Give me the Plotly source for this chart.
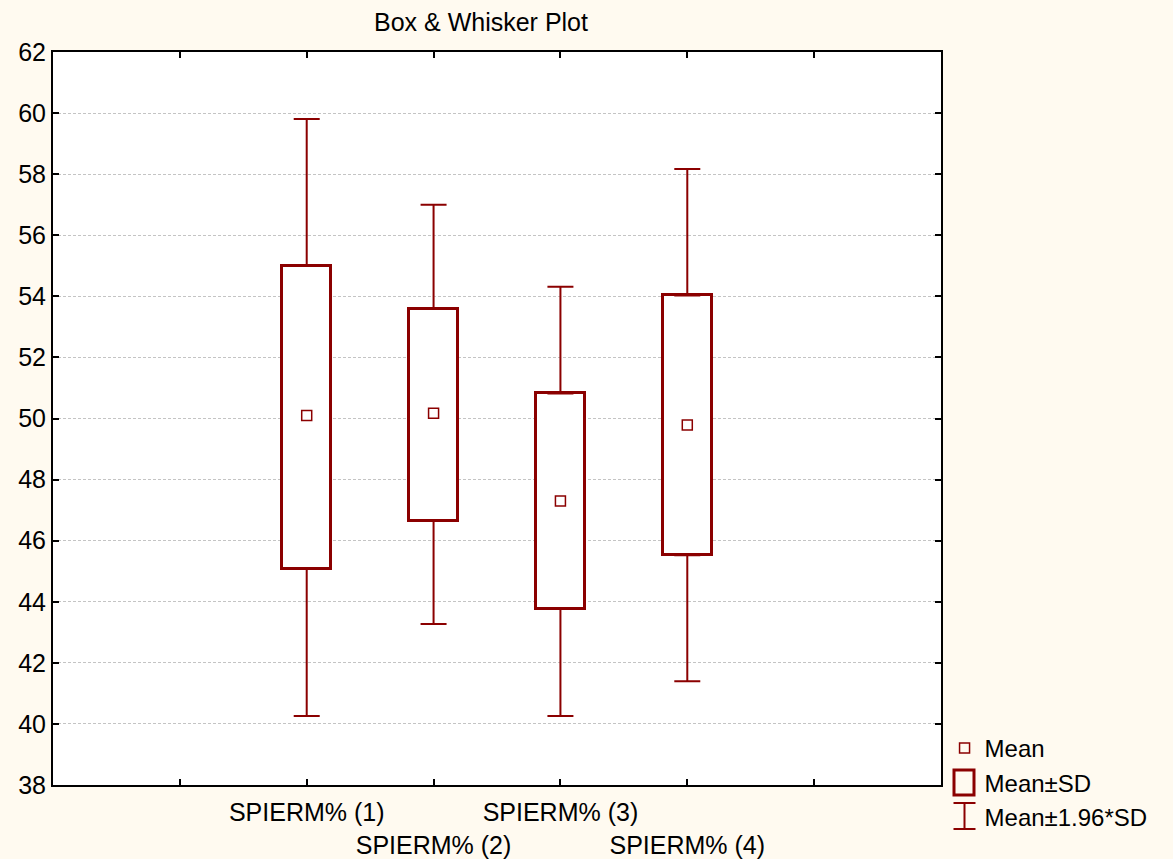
import plotly.graph_objects as go

categories = ["SPIERM% (1)", "SPIERM% (2)", "SPIERM% (3)", "SPIERM% (4)"]
positions = [2, 3, 4, 5]
means = [50.10, 50.17, 47.30, 49.79]
sd_upper = [54.99, 53.60, 50.82, 54.03]
sd_lower = [45.07, 46.65, 43.77, 45.52]
ci_upper = [59.81, 57.00, 54.31, 58.17]
ci_lower = [40.26, 43.27, 40.26, 41.40]
y_ticks = list(range(38, 63, 2))

RED = "#8B0000"
FONT = "Liberation Sans, Arial, sans-serif"

W, H = 1173, 859
ML, MR, MT, MB = 53, 232, 52, 74
PW, PH = W - ML - MR, H - MT - MB


def px_x(p):
    return (p - ML) / PW


def px_y(p):
    return (H - MB - p) / PH


fig = go.Figure()

# Mean ± SD boxes
fig.add_trace(go.Bar(
    x=positions,
    y=[u - l for u, l in zip(sd_upper, sd_lower)],
    base=sd_lower,
    width=0.39,
    marker=dict(color="white", line=dict(color=RED, width=3)),
    showlegend=False,
    hoverinfo="skip",
))

# upper whiskers (from box top to mean+1.96SD)
fig.add_trace(go.Scatter(
    x=positions, y=sd_upper, mode="markers",
    marker=dict(size=1, color="rgba(0,0,0,0)"),
    error_y=dict(type="data", symmetric=False,
                 array=[c - u for c, u in zip(ci_upper, sd_upper)],
                 arrayminus=[0] * 4, color=RED, thickness=2, width=13),
    showlegend=False, hoverinfo="skip",
))
# lower whiskers
fig.add_trace(go.Scatter(
    x=positions, y=sd_lower, mode="markers",
    marker=dict(size=1, color="rgba(0,0,0,0)"),
    error_y=dict(type="data", symmetric=False,
                 array=[0] * 4,
                 arrayminus=[l - c for l, c in zip(sd_lower, ci_lower)],
                 color=RED, thickness=2, width=13),
    showlegend=False, hoverinfo="skip",
))

# Means
fig.add_trace(go.Scatter(
    x=positions, y=means, mode="markers",
    marker=dict(symbol="square-open", size=10, color=RED, line=dict(width=1.5, color=RED)),
    name="Mean", legendrank=1,
))

# legend entries whose glyphs are drawn as shapes below
for nm, rk in [("Mean±SD", 2), ("Mean±1.96*SD", 3)]:
    fig.add_trace(go.Scatter(
        x=[None], y=[None], mode="markers",
        marker=dict(size=1, color="rgba(0,0,0,0)"),
        name=nm, legendrank=rk,
    ))

# legend glyphs (decoration)
fig.add_shape(type="rect", xref="paper", yref="paper",
              x0=px_x(954), x1=px_x(974), y0=px_y(795), y1=px_y(770),
              line=dict(color=RED, width=3), fillcolor="rgba(0,0,0,0)", layer="above")
cx = 964.5
fig.add_shape(type="path", xref="paper", yref="paper",
              path=(f"M {px_x(cx-11)} {px_y(803)} L {px_x(cx+11)} {px_y(803)} "
                    f"M {px_x(cx)} {px_y(803)} L {px_x(cx)} {px_y(829)} "
                    f"M {px_x(cx-11)} {px_y(829)} L {px_x(cx+11)} {px_y(829)}"),
              line=dict(color=RED, width=2), layer="above")

fig.update_layout(
    width=W, height=H,
    paper_bgcolor="#FFFAF0",
    plot_bgcolor="white",
    margin=dict(l=ML, r=MR, t=MT, b=MB, autoexpand=False),
    font=dict(family=FONT, size=25, color="black"),
    title=dict(text="Box & Whisker Plot", x=481 / W, xanchor="center",
               y=1 - 22 / H, yanchor="middle", font=dict(size=25)),
    showlegend=True,
    legend=dict(x=1.004, xanchor="left", y=0.0805, yanchor="top",
                bgcolor="rgba(0,0,0,0)", font=dict(size=24),
                traceorder="normal", tracegroupgap=0, itemsizing="trace"),
    bargap=0,
)

fig.update_xaxes(
    range=[0, 7],
    tickmode="array",
    tickvals=[1] + positions + [6],
    ticktext=[""] + [c if i % 2 == 0 else " <br>" + c for i, c in enumerate(categories)] + [""],
    tickangle=0, automargin=False, ticklabelstandoff=4,
    ticks="inside", ticklen=6, tickwidth=2, tickcolor="black",
    showline=True, linecolor="black", linewidth=2, mirror="ticks",
    showgrid=False, zeroline=False,
    tickfont=dict(size=25),
)
fig.update_yaxes(
    range=[38, 62], automargin=False,
    tickmode="array", tickvals=y_ticks,
    ticks="inside", ticklen=6, tickwidth=2, tickcolor="black",
    showline=True, linecolor="black", linewidth=2, mirror="ticks",
    showgrid=True, gridcolor="#c4c4c4", gridwidth=1, griddash="3px,2px",
    zeroline=False, tickfont=dict(size=25),
)

fig.write_html("out.html", config={"displayModeBar": False},
               post_script="document.body.style.margin='0';document.body.style.background='#FFFAF0';")
